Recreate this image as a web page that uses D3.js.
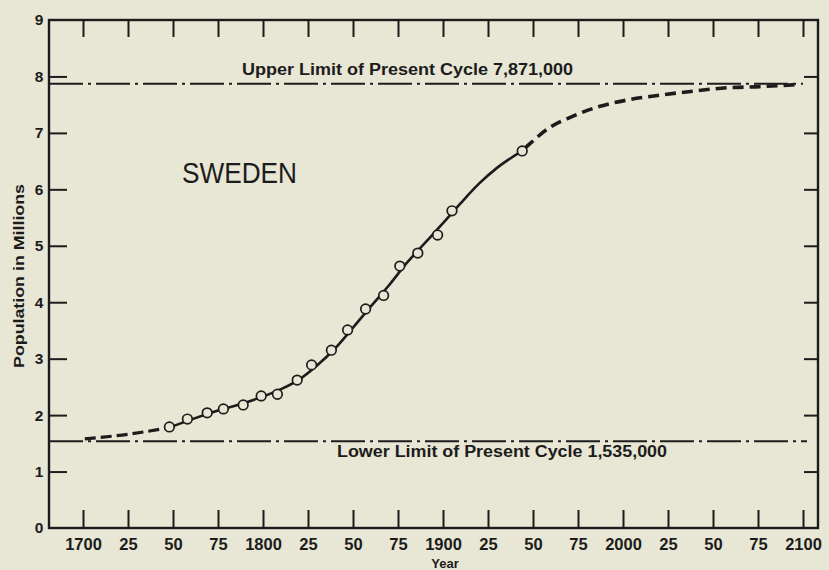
<!DOCTYPE html>
<html>
<head>
<meta charset="utf-8">
<script src="https://cdn.jsdelivr.net/npm/d3@7"></script>
<style>
  html, body { margin: 0; padding: 0; background: #e8e6d4; }
  svg { display: block; }
  text { fill: #1c1c1c; font-family: "Liberation Sans", Arial, sans-serif; }
</style>
</head>
<body>
<svg id="chart" width="829" height="570"></svg>
<script>
// ---------------- data ----------------
const xTickYears  = [1700,1725,1750,1775,1800,1825,1850,1875,1900,1925,1950,1975,2000,2025,2050,2075,2100];
const xTickLabels = ["1700","25","50","75","1800","25","50","75","1900","25","50","75","2000","25","50","75","2100"];
const yTickValues = [0,1,2,3,4,5,6,7,8,9];
const yTickLabels = ["0","1","2","3","4","5","6","7","8","9"];

// observed census points (year, millions)
const obsYears  = [1748,1758,1769,1778,1789,1799,1808,1819,1827,1838,1847,1857,1867,1876,1886,1897,1905,1944];
const obsValues = [1.79,1.93,2.04,2.11,2.18,2.34,2.37,2.62,2.89,3.15,3.51,3.88,4.12,4.64,4.87,5.19,5.62,6.68];

// fitted curve – early dashed extrapolation
const earlyYears  = [1701,1725,1748];
const earlyValues = [1.58,1.66,1.78];
// fitted curve – solid (observed range)
const fitYears  = [1748,1760,1775,1790,1800,1810,1820,1830,1840,1850,1860,1870,1880,1890,1900,1910,1920,1930,1944];
const fitValues = [1.78,1.92,2.08,2.22,2.33,2.46,2.63,2.88,3.18,3.55,3.93,4.30,4.70,5.05,5.40,5.76,6.10,6.38,6.68];
// fitted curve – future dashed projection
const projYears  = [1944,1948,1959,1971,1986,2002,2021,2039,2058,2076,2094,2098];
const projValues = [6.68,6.80,7.09,7.28,7.46,7.58,7.67,7.74,7.80,7.82,7.85,7.86];

// asymptotes
const upperLimit = 7.871;
const lowerLimit = 1.535;
const upperLabel = "Upper Limit of Present Cycle 7,871,000";
const lowerLabel = "Lower Limit of Present Cycle 1,535,000";
const title = "SWEDEN";
const xTitle = "Year";
const yTitle = "Population in Millions";

// ---------------- layout ----------------
const svg = d3.select("#chart");
const frame = { left: 49, right: 818, top: 20, bottom: 528 };
const ink = "#1c1c1c";

const x = d3.scaleLinear().domain([1700, 2100]).range([83, 803]);
const y = d3.scaleLinear().domain([0, 9]).range([frame.bottom, frame.top]);

// frame
svg.append("rect")
  .attr("x", frame.left).attr("y", frame.top)
  .attr("width", frame.right - frame.left).attr("height", frame.bottom - frame.top)
  .attr("fill", "none").attr("stroke", ink).attr("stroke-width", 2.4);

// bottom axis (ticks pointing up, inside)
const bottomAxis = d3.axisBottom(x).tickValues(xTickYears)
  .tickFormat((d, i) => xTickLabels[i]).tickSizeInner(-18).tickSizeOuter(0).tickPadding(7);
const gB = svg.append("g").attr("transform", `translate(0,${frame.bottom})`).call(bottomAxis);
gB.select(".domain").remove();
gB.selectAll("line").attr("stroke", ink).attr("stroke-width", 2);
gB.selectAll("text").attr("font-size", 16.5).attr("font-weight", "bold")
  .attr("fill", ink).attr("dy", "0.9em");

// top axis (ticks pointing down, inside, no labels)
const topAxis = d3.axisTop(x).tickValues(xTickYears).tickFormat("").tickSizeInner(-17).tickSizeOuter(0);
const gT = svg.append("g").attr("transform", `translate(0,${frame.top})`).call(topAxis);
gT.select(".domain").remove();
gT.selectAll("line").attr("stroke", ink).attr("stroke-width", 2);

// left axis (ticks pointing right, inside)
const leftAxis = d3.axisLeft(y).tickValues(yTickValues)
  .tickFormat((d, i) => yTickLabels[i]).tickSizeInner(-18).tickSizeOuter(0).tickPadding(4);
const gL = svg.append("g").attr("transform", `translate(${frame.left},0)`).call(leftAxis);
gL.select(".domain").remove();
gL.selectAll("line").attr("stroke", ink).attr("stroke-width", 2)
  .attr("opacity", d => (d === 0 || d === 9) ? 0 : 1);
gL.selectAll("text").attr("font-size", 15.5).attr("font-weight", "bold").attr("fill", ink)
  .attr("x", -10).attr("text-anchor", "middle");

// right axis (ticks pointing left, inside)
const rightAxis = d3.axisRight(y).tickValues(yTickValues.filter(v => v > 0 && v < 9))
  .tickFormat("").tickSizeInner(-14).tickSizeOuter(0);
const gR = svg.append("g").attr("transform", `translate(${frame.right},0)`).call(rightAxis);
gR.select(".domain").remove();
gR.selectAll("line").attr("stroke", ink).attr("stroke-width", 2);

// axis titles
svg.append("text").attr("x", x(1900) + 2).attr("y", 568)
  .attr("text-anchor", "middle").attr("font-size", 13).attr("font-weight", "bold").text(xTitle);
svg.append("text")
  .attr("transform", `translate(24,${(frame.top + frame.bottom) / 2 + 2}) rotate(-90)`)
  .attr("text-anchor", "middle").attr("font-size", 14).attr("font-weight", "bold")
  .attr("textLength", 184).attr("lengthAdjust", "spacingAndGlyphs").text(yTitle);

// asymptote lines (dash-dot)
const dashDot = "34,5,3,5";
svg.append("line").attr("x1", frame.left).attr("x2", x(2100))
  .attr("y1", y(upperLimit)).attr("y2", y(upperLimit))
  .attr("stroke", ink).attr("stroke-width", 2).attr("stroke-dasharray", dashDot);
svg.append("line").attr("x1", frame.left).attr("x2", x(2100) + 4)
  .attr("y1", y(lowerLimit)).attr("y2", y(lowerLimit))
  .attr("stroke", ink).attr("stroke-width", 2).attr("stroke-dasharray", dashDot);

svg.append("text").attr("x", 242).attr("y", y(upperLimit) - 9)
  .attr("font-size", 16).attr("font-weight", "bold")
  .attr("textLength", 331).attr("lengthAdjust", "spacingAndGlyphs").text(upperLabel);
svg.append("text").attr("x", 337).attr("y", y(lowerLimit) + 16)
  .attr("font-size", 16).attr("font-weight", "bold")
  .attr("textLength", 330).attr("lengthAdjust", "spacingAndGlyphs").text(lowerLabel);

// title
svg.append("text").attr("x", 182).attr("y", 183)
  .attr("font-size", 29).attr("textLength", 115).attr("lengthAdjust", "spacingAndGlyphs").text(title);

// curves
const line = d3.line().x(d => x(d[0])).y(d => y(d[1])).curve(d3.curveMonotoneX);
const zip = (a, b) => a.map((v, i) => [v, b[i]]);

svg.append("path").datum(zip(earlyYears, earlyValues)).attr("d", line)
  .attr("fill", "none").attr("stroke", ink).attr("stroke-width", 3.2).attr("stroke-dasharray", "11,5");
svg.append("path").datum(zip(fitYears, fitValues)).attr("d", line)
  .attr("fill", "none").attr("stroke", ink).attr("stroke-width", 2.6);
svg.append("path").datum(zip(projYears, projValues)).attr("d", line)
  .attr("fill", "none").attr("stroke", ink).attr("stroke-width", 3.6).attr("stroke-dasharray", "11,6")
  .attr("stroke-dashoffset", -4);

// observed points
svg.append("g").selectAll("circle").data(zip(obsYears, obsValues)).join("circle")
  .attr("cx", d => x(d[0])).attr("cy", d => y(d[1])).attr("r", 4.8)
  .attr("fill", "#e8e6d4").attr("stroke", ink).attr("stroke-width", 1.7);
</script>
</body>
</html>
